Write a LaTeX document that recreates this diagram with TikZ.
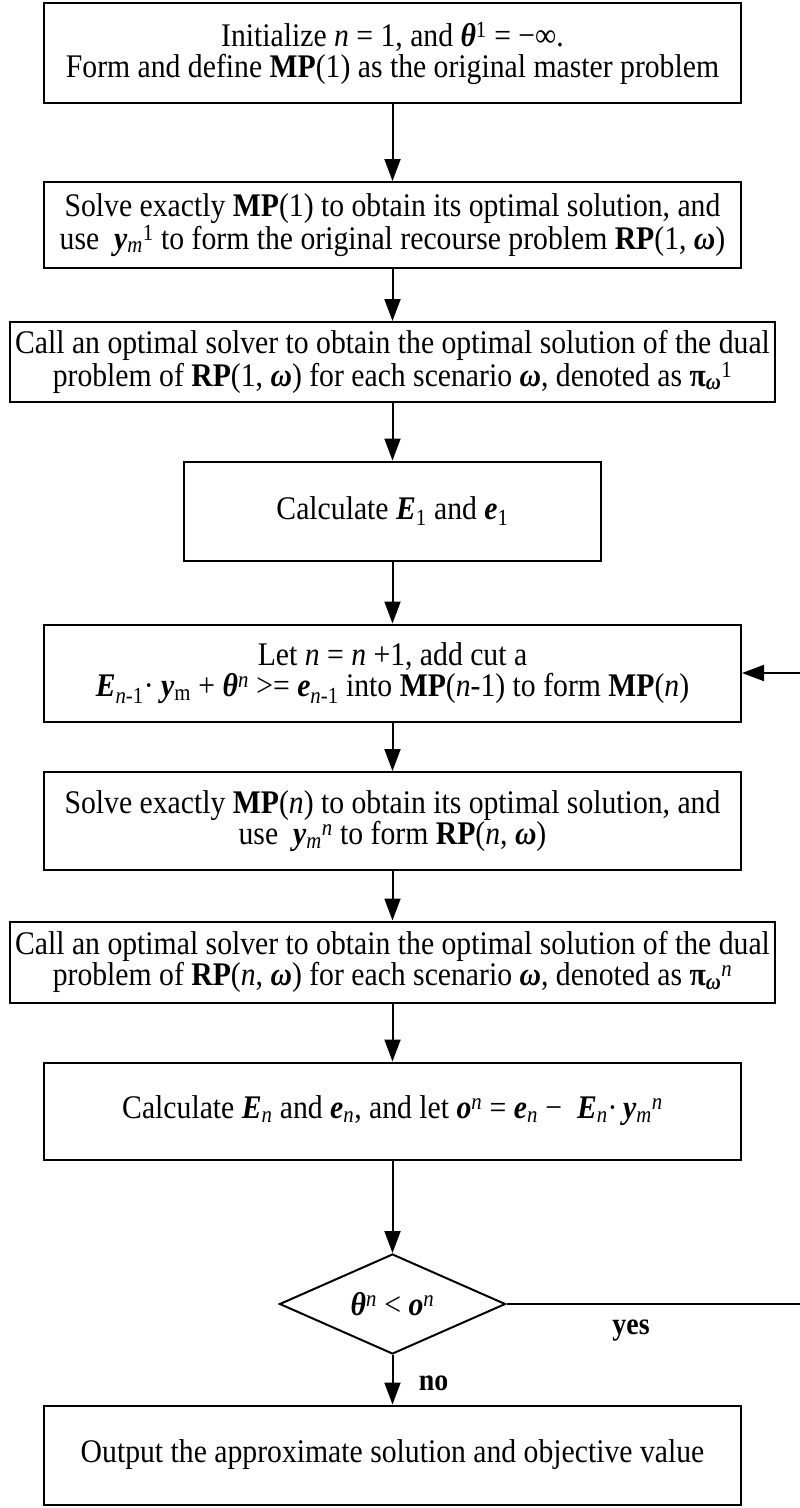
\documentclass[tikz,border=0pt]{standalone}
\usepackage{fontspec}
\setmainfont{Liberation Serif}[FakeStretch=0.9]
\usetikzlibrary{positioning,shapes.geometric,arrows.meta}

\newcommand{\bvec}[1]{\textbf{\textit{#1}}}
\newcommand{\subsup}[3]{#1\textsubscript{#2}\textsuperscript{#3}}

\begin{document}
\begin{tikzpicture}[x=1pt,y=-1pt,
  font=\fontsize{33}{31}\selectfont,
  box/.style={draw, line width=2pt, align=center, inner sep=0pt},
  decide/.style={draw, diamond, line width=2pt, aspect=2.26,
    minimum width=226pt, minimum height=100pt, inner sep=0pt},
  flow/.style={-{Triangle[length=22pt,width=16pt]}, line width=2pt},
  tag/.style={font=\fontsize{31}{32}\selectfont\bfseries}]

\useasboundingbox (0,0) rectangle (800,1508);

% Boxes of the first pass
\node[box, minimum width=697pt, minimum height=100pt] (init) at (392.5,53)
  {Initialize \textit{n} = 1, and \bvec{θ}\textsuperscript{1} = −∞.\\
   Form and define \textbf{MP}(1) as the original master problem};
\node[box, minimum width=697pt, minimum height=86pt] (solve1) at (392.5,225)
  {Solve exactly \textbf{MP}(1) to obtain its optimal solution, and\\
   use~ \subsup{\bvec{y}}{\textit{m}}{1} to form the original recourse problem \textbf{RP}(1, \bvec{ω})};
\node[box, minimum width=765pt, minimum height=80pt] (dual1) at (392.5,362)
  {Call an optimal solver to obtain the optimal solution of the dual\\
   problem of \textbf{RP}(1, \bvec{ω}) for each scenario \bvec{ω}, denoted as \subsup{\textbf{π}}{\bvec{ω}}{1}};
\node[box, minimum width=417pt, minimum height=99pt] (calc1) at (392.5,511)
  {Calculate \bvec{E}\textsubscript{1} and \bvec{e}\textsubscript{1}};

% Boxes of the loop
\node[box, minimum width=697pt, minimum height=97pt] (addcut) at (392.5,673)
  {Let \textit{n} = \textit{n} +1, add cut a\\
   \bvec{E}\textsubscript{\textit{n}-1}· \bvec{y}\textsubscript{m} + \bvec{θ}\textsuperscript{\textit{n}} >= \bvec{e}\textsubscript{\textit{n}-1} into \textbf{MP}(\textit{n}-1) to form \textbf{MP}(\textit{n})};
\node[box, minimum width=697pt, minimum height=98pt] (solven) at (392.5,821)
  {Solve exactly \textbf{MP}(\textit{n}) to obtain its optimal solution, and\\
   use~ \subsup{\bvec{y}}{\textit{m}}{\textit{n}} to form \textbf{RP}(\textit{n}, \bvec{ω})};
\node[box, minimum width=765pt, minimum height=81pt] (dualn) at (392.5,962)
  {Call an optimal solver to obtain the optimal solution of the dual\\
   problem of \textbf{RP}(\textit{n}, \bvec{ω}) for each scenario \bvec{ω}, denoted as \subsup{\textbf{π}}{\bvec{ω}}{\textit{n}}};
\node[box, minimum width=697pt, minimum height=97pt] (calcn) at (392.5,1111)
  {Calculate \bvec{E}\textsubscript{\textit{n}} and \bvec{e}\textsubscript{\textit{n}}, and let \bvec{o}\textsuperscript{\textit{n}} = \bvec{e}\textsubscript{\textit{n}} −~ \bvec{E}\textsubscript{\textit{n}}·\,\subsup{\bvec{y}}{\textit{m}}{\textit{n}}};
\node[decide] (check) at (392.5,1304)
  {\bvec{θ}\textsuperscript{\textit{n}} < \bvec{o}\textsuperscript{\textit{n}}};
\node[box, minimum width=697pt, minimum height=99pt] (output) at (392.5,1455)
  {Output the approximate solution and objective value};

% Connectors
\draw[flow] (init) -- (solve1);
\draw[flow] (solve1) -- (dual1);
\draw[flow] (dual1) -- (calc1);
\draw[flow] (calc1) -- (addcut);
\draw[flow] (addcut) -- (solven);
\draw[flow] (solven) -- (dualn);
\draw[flow] (dualn) -- (calcn);
\draw[flow] (calcn) -- (check);
\draw[flow] (check) -- node[tag, anchor=west, xshift=22pt, yshift=-4pt] {no} (output);

% Back to the cut step (vertical run lies past the right edge)
\coordinate (rim) at (803,0);
\draw[flow] (check.east) -- node[tag, below=12pt, pos=0.42] {yes} (check.east -| rim)
  |- (addcut.east);

\end{tikzpicture}
\end{document}
